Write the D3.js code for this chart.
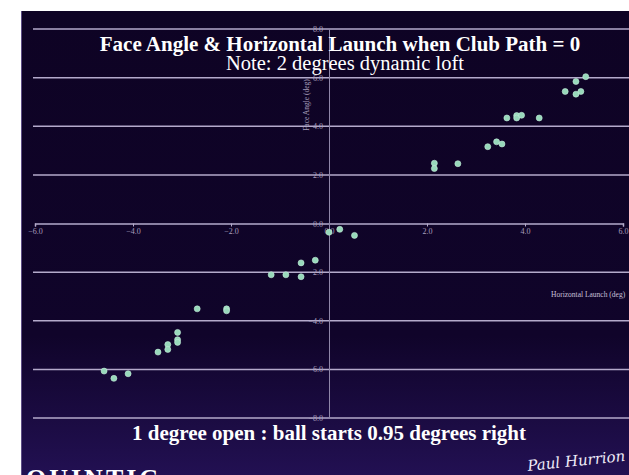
<!DOCTYPE html>
<html>
<head>
<meta charset="utf-8">
<script src="https://cdn.jsdelivr.net/npm/d3@7"></script>
<style>
  html, body { margin: 0; padding: 0; background: #ffffff; }
  svg { display: block; }
</style>
</head>
<body>
<svg id="chart" width="629" height="475"></svg>
<script>
// ---- data ----
const horizontalLaunch = [-4.59,-4.39,-4.10,-3.49,-3.29,-3.29,-3.09,-3.09,-3.09,-2.69,-2.09,-2.09,-1.18,-0.88,-0.57,-0.57,-0.28,0.00,0.22,0.52,2.15,2.15,2.63,3.24,3.42,3.53,3.63,3.83,3.83,3.93,4.29,4.82,5.04,5.04,5.14,5.24];
const faceAngle        = [-6.07,-6.37,-6.18,-5.29,-4.98,-5.18,-4.78,-4.89,-4.48,-3.51,-3.51,-3.59,-2.11,-2.11,-1.62,-2.19,-1.51,-0.36,-0.24,-0.49,2.48,2.26,2.46,3.16,3.36,3.27,4.34,4.44,4.34,4.45,4.34,5.43,5.84,5.32,5.43,6.04];
const xTicks = [-6, -4, -2, 0, 2, 4, 6];
const yTicks = [8, 6, 4, 2, 0, -2, -4, -6, -8];
const titleText = "Face Angle & Horizontal Launch when Club Path = 0";
const subtitleText = "Note: 2 degrees dynamic loft";
const footerText = "1 degree open : ball starts 0.95 degrees right";
const xTitle = "Horizontal Launch (deg)";
const yTitle = "Face Angle (deg)";

const svg = d3.select("#chart");

// background panel
const defs = svg.append("defs");
const grad = defs.append("linearGradient").attr("id", "bg").attr("x1", 0).attr("y1", 0).attr("x2", 0).attr("y2", 1);
grad.append("stop").attr("offset", "0%").attr("stop-color", "#0e0324");
grad.append("stop").attr("offset", "70%").attr("stop-color", "#10042a");
grad.append("stop").attr("offset", "100%").attr("stop-color", "#221052");
svg.append("rect").attr("x", 21).attr("y", 11).attr("width", 608).attr("height", 464).attr("fill", "url(#bg)");
svg.append("line").attr("x1", 21.5).attr("x2", 21.5).attr("y1", 11).attr("y2", 475)
  .attr("stroke", "#5d4d85").attr("stroke-width", 1);

// scales
const x = d3.scaleLinear().domain([-6, 6]).range([35, 623]);
const y = d3.scaleLinear().domain([-8, 8]).range([418, 29]);

const gridColor = "#b4aacb";
const labelColor = "#a89fbc";

// horizontal gridlines
svg.append("g").selectAll("line").data(yTicks.filter(d => d !== 0)).join("line")
  .attr("x1", 33).attr("x2", 629)
  .attr("y1", d => y(d)).attr("y2", d => y(d))
  .attr("stroke", gridColor).attr("stroke-width", 1.5);

// x axis (at y = 0)
const xAxis = d3.axisBottom(x).tickValues(xTicks).tickFormat(d3.format(".1f")).tickSize(3);
const gx = svg.append("g").attr("transform", `translate(0,${y(0)})`).call(xAxis);
gx.select(".domain").attr("stroke", gridColor).attr("stroke-width", 1.5);
gx.selectAll(".tick line").attr("stroke", gridColor);
gx.selectAll(".tick text").attr("fill", labelColor).attr("font-size", 8).attr("font-family", "Liberation Serif").attr("dy", "0.5em");

// y axis (at x = 0)
const yAxis = d3.axisLeft(y).tickValues(yTicks).tickFormat(d3.format(".1f")).tickSize(0).tickPadding(6);
const gy = svg.append("g").attr("transform", `translate(${x(0)},0)`).call(yAxis);
gy.select(".domain").attr("stroke", "#8f86a8").attr("stroke-width", 1);
gy.selectAll(".tick text").attr("fill", labelColor).attr("font-size", 8).attr("font-family", "Liberation Serif");

// axis titles
svg.append("text").attr("transform", `translate(309,105) rotate(-90)`)
  .attr("text-anchor", "middle").attr("fill", labelColor)
  .attr("font-size", 7.5).attr("font-family", "Liberation Serif").text(yTitle);
svg.append("text").attr("x", 551).attr("y", 297)
  .attr("fill", "#c8c0d8").attr("font-size", 7.5).attr("font-family", "Liberation Serif").text(xTitle);

// points
svg.append("g").selectAll("circle").data(horizontalLaunch.map((d, i) => [d, faceAngle[i]])).join("circle")
  .attr("cx", d => x(d[0])).attr("cy", d => y(d[1])).attr("r", 3)
  .attr("fill", "#98d9bb").attr("stroke", "#c6eedc").attr("stroke-width", 0.6);

// titles
svg.append("text").attr("x", 340).attr("y", 51).attr("text-anchor", "middle")
  .attr("fill", "#ffffff").attr("font-family", "Liberation Serif").attr("font-weight", "bold")
  .attr("font-size", 21).text(titleText);
svg.append("text").attr("x", 345).attr("y", 70).attr("text-anchor", "middle")
  .attr("fill", "#ffffff").attr("font-family", "Liberation Serif")
  .attr("font-size", 20.5).text(subtitleText);
svg.append("text").attr("x", 329).attr("y", 440).attr("text-anchor", "middle")
  .attr("fill", "#ffffff").attr("font-family", "Liberation Serif").attr("font-weight", "bold")
  .attr("font-size", 21).text(footerText);

// logo and signature
svg.append("text").attr("x", 26).attr("y", 487)
  .attr("fill", "#ffffff").attr("font-family", "Liberation Serif").attr("font-weight", "bold")
  .attr("font-size", 26).attr("letter-spacing", 3).text("QUINTIC");
svg.append("text").attr("transform", "translate(528,471) rotate(-6)")
  .attr("fill", "#f0ecf8").attr("font-family", "DejaVu Serif").attr("font-style", "italic")
  .attr("font-size", 15).text("Paul Hurrion");
</script>
</body>
</html>
